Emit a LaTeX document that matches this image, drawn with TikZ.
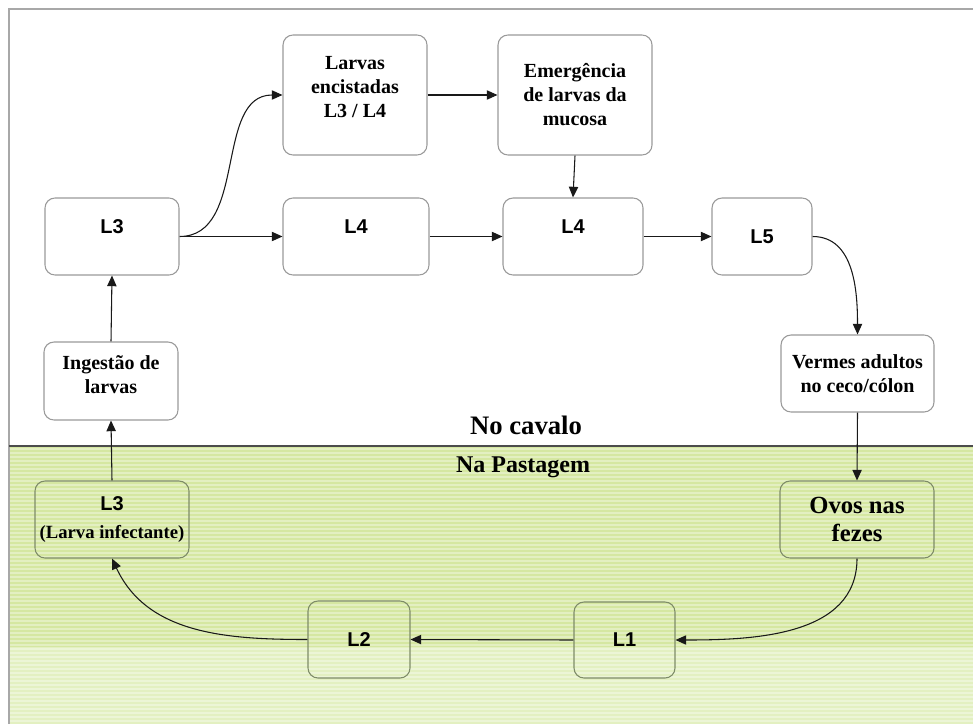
\documentclass[tikz,border=0pt]{standalone}
\usepackage{fontspec}
\setmainfont{Liberation Serif}
\newfontfamily\arialfont{Liberation Sans}
\usetikzlibrary{arrows.meta}
\definecolor{PastoClr}{HTML}{D5E7A1}
\definecolor{PastoLightClr}{HTML}{E3F0C1}
\definecolor{FrameClr}{HTML}{A8A8A8}
\definecolor{BoxClr}{HTML}{9A9A9A}
\definecolor{GreenBoxClr}{HTML}{7E8C68}

\begin{document}
\begin{tikzpicture}[x=0.75pt,y=-0.75pt,
  box/.style={draw=BoxClr,line width=0.8pt,rounded corners=7.5pt,fill=white,inner sep=0pt,align=center},
  gbox/.style={box,draw=GreenBoxClr,fill=none},
  sz/.style 2 args={minimum width=#1,minimum height=#2},
  lift/.style={text depth=#1},
  serif/.style={font=\bfseries\fontsize{15}{18}\selectfont},
  sans/.style={font=\arialfont\bfseries\fontsize{15}{17}\selectfont},
  arr/.style={-{Triangle[length=8pt,width=7pt]},line width=0.8pt,draw=black!90}]
\useasboundingbox (0,0) rectangle (973,724);

% pasture background
\fill[PastoClr] (9,446) rectangle (973,647);
\fill[PastoLightClr] (9,647) rectangle (973,724);
\foreach \y in {449,453,...,724}
  \draw[white,opacity=0.35,line width=1.2pt] (9,\y) -- (973,\y);
\draw[FrameClr,line width=1.2pt] (9,724) -- (9,9) -- (973,9);
\draw[black!70,line width=1.6pt] (9,446) -- (973,446);

% no cavalo
\node[box,sans,sz={100.5pt}{57.75pt},lift=15pt] (l3) at (112,236.5) {L3};
\node[box,serif,sz={100.5pt}{58.5pt},lift=9pt] (ing) at (111,381) {Ingestão de\\larvas};
\node[box,serif,sz={108pt}{90pt},lift=12pt] (enc) at (355,95) {Larvas\\encistadas\\L3 / L4};
\node[box,serif,sz={115.5pt}{90pt}] (emg) at (575,95) {Emergência\\de larvas da\\mucosa};
\node[box,sans,sz={109.5pt}{57.75pt},lift=15pt] (l4a) at (356,236.5) {L4};
\node[box,sans,sz={105pt}{57.75pt},lift=15pt] (l4b) at (573,236.5) {L4};
\node[box,sans,sz={75pt}{57.75pt}] (l5) at (762,236.5) {L5};
\node[box,serif,sz={114.75pt}{57.75pt}] (verm) at (857.5,373.5) {Vermes adultos\\no ceco/cólon};

% na pastagem
\node[gbox,font=\bfseries\fontsize{18.5}{21}\selectfont,sz={115.5pt}{57.75pt}] (ovos) at (857,519.5) {Ovos nas\\fezes};
\node[gbox,sans,sz={75.75pt}{57pt}] (l1) at (624.5,640) {L1};
\node[gbox,sans,sz={76.5pt}{57.75pt}] (l2) at (359,639.5) {L2};
\node[gbox,sz={115.5pt}{57.75pt}] (l3i) at (112,519.5)
  {{\arialfont\bfseries\fontsize{15}{17}\selectfont L3}\\[9pt]{\bfseries\fontsize{14}{16}\selectfont (Larva infectante)}};

\node[font=\bfseries\fontsize{20}{24}\selectfont] (cav) at (526,425) {No cavalo};
\node[font=\bfseries\fontsize{18}{22}\selectfont] (pas) at (523,467) {Na Pastagem};

\draw[arr] (l3.east) -- (l4a.west);
\draw[arr] (l3.east) to[out=0,in=180] (enc.west);
\draw[arr] (enc.east) -- (emg.west);
\draw[arr] (emg.south) -- (l4b.north);
\draw[arr] (l4a.east) -- (l4b.west);
\draw[arr] (l4b.east) -- (l5.west);
\draw[arr] (l5.east) to[out=0,in=90] (verm.north);
\draw[arr] (verm.south) -- (ovos.north);
\draw[arr] (ovos.south) to[out=-90,in=0] (l1.east);
\draw[arr] (l1.west) -- (l2.east);
\draw[arr] (l2.west) to[out=180,in=-65] (l3i.south);
\draw[arr] (l3i.north) -- (ing.south);
\draw[arr] (ing.north) -- (l3.south);

\end{tikzpicture}
\end{document}
